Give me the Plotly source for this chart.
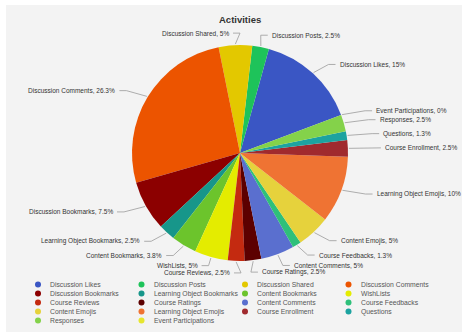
import math
import plotly.graph_objects as go

# ---------------- data ----------------
title_text = "Activities"
categories = [
    "Discussion Likes", "Discussion Posts", "Discussion Shared", "Discussion Comments",
    "Discussion Bookmarks", "Learning Object Bookmarks", "Content Bookmarks", "WishLists",
    "Course Reviews", "Course Ratings", "Content Comments", "Course Feedbacks",
    "Content Emojis", "Learning Object Emojis", "Course Enrollment", "Questions",
    "Responses", "Event Participations",
]
percentages = [15, 2.5, 5, 26.3, 7.5, 2.5, 3.8, 5, 2.5, 2.5, 5, 1.3, 5, 10, 2.5, 1.3, 2.5, 0]
colors = [
    "#3a56c4", "#1ec35a", "#e3c800", "#ec5400",
    "#8c0000", "#17968a", "#6cc42c", "#e4ec00",
    "#c42a10", "#5c0000", "#5a6fcf", "#2ec07a",
    "#e6d23c", "#ef7333", "#a02a2e", "#1ca3a0",
    "#84d24a", "#e6e62e",
]

# ---------------- layout constants ----------------
W, H = 462, 332
CX, CY, R = 240, 153, 108
START = 20.6            # math angle (deg) where the first slice begins
RX_L, RY_L = 140, 120   # label ring
label_nudge = {"WishLists": -3}
FONT = "Liberation Sans, Arial, Helvetica, sans-serif"

total = sum(percentages)

fig = go.Figure()
fig.add_trace(go.Pie(
    labels=categories, values=percentages, sort=False,
    direction="counterclockwise",
    rotation=90 - START - percentages[0] / total * 360,
    marker=dict(colors=colors, line=dict(width=0)),
    textinfo="none", hoverinfo="label+percent", showlegend=False,
    domain=dict(x=[(CX - R) / W, (CX + R) / W], y=[1 - (CY + R) / H, 1 - (CY - R) / H]),
))

# labels + connectors
annotations = []
cx_line, cy_line = [], []
cum = 0.0
for name, p in zip(categories, percentages):
    mid = START + (cum + p / 2) / total * 360
    cum += p
    t = math.radians(mid)
    ex, ey = CX + (R + 1) * math.cos(t), CY - (R + 1) * math.sin(t)
    lx, ly = CX + RX_L * math.cos(t), CY - RY_L * math.sin(t) + label_nudge.get(name, 0)
    right = math.cos(t) >= 0
    s = 1 if right else -1
    cx_line += [lx + s * 1, lx - s * 6, ex, None]
    cy_line += [ly, ly, ey, None]
    annotations.append(dict(
        x=lx + s * 3, y=ly, xref="x", yref="y", showarrow=False,
        text=f"{name}, {p:g}%", xanchor="left" if right else "right", yanchor="middle",
        font=dict(size=6.5, color="#333333", family=FONT),
    ))

fig.add_trace(go.Scatter(x=cx_line, y=cy_line, mode="lines",
                         line=dict(color="#9a9a9a", width=0.8),
                         hoverinfo="skip", showlegend=False))

# manual legend (4 columns)
col_x = [38, 141.5, 245, 348.5]
row_y = [284.5, 293.5, 302.5, 311.5, 320.5]
lgx, lgy = [], []
for i, name in enumerate(categories):
    c, r = i % 4, i // 4
    lgx.append(col_x[c])
    lgy.append(row_y[r])
    annotations.append(dict(
        x=col_x[c] + 10, y=row_y[r], xref="x", yref="y", showarrow=False,
        text=name, xanchor="left", yanchor="middle",
        font=dict(size=6.8, color="#555555", family=FONT),
    ))
fig.add_trace(go.Scatter(x=lgx, y=lgy, mode="markers",
                         marker=dict(size=6, color=colors, line=dict(width=0)),
                         hoverinfo="skip", showlegend=False))

annotations.append(dict(
    x=CX, y=19, xref="x", yref="y", showarrow=False, text=f"<b>{title_text}</b>",
    xanchor="center", yanchor="middle", font=dict(size=9.5, color="#333333", family=FONT),
))

fig.update_layout(
    width=W, height=H, margin=dict(l=0, r=0, t=0, b=0),
    paper_bgcolor="#ffffff", plot_bgcolor="rgba(0,0,0,0)",
    xaxis=dict(range=[0, W], visible=False, fixedrange=True),
    yaxis=dict(range=[H, 0], visible=False, fixedrange=True),
    annotations=annotations,
    shapes=[dict(type="rect", xref="paper", yref="paper", x0=6 / W, x1=1, y0=0, y1=1 - 5 / H,
                 fillcolor="#f3f3f3", line=dict(width=0), layer="below")],
    showlegend=False,
)

fig.write_html("out.html", config={"displayModeBar": False},
               post_script="document.body.style.margin='0';document.body.style.overflow='hidden';")
